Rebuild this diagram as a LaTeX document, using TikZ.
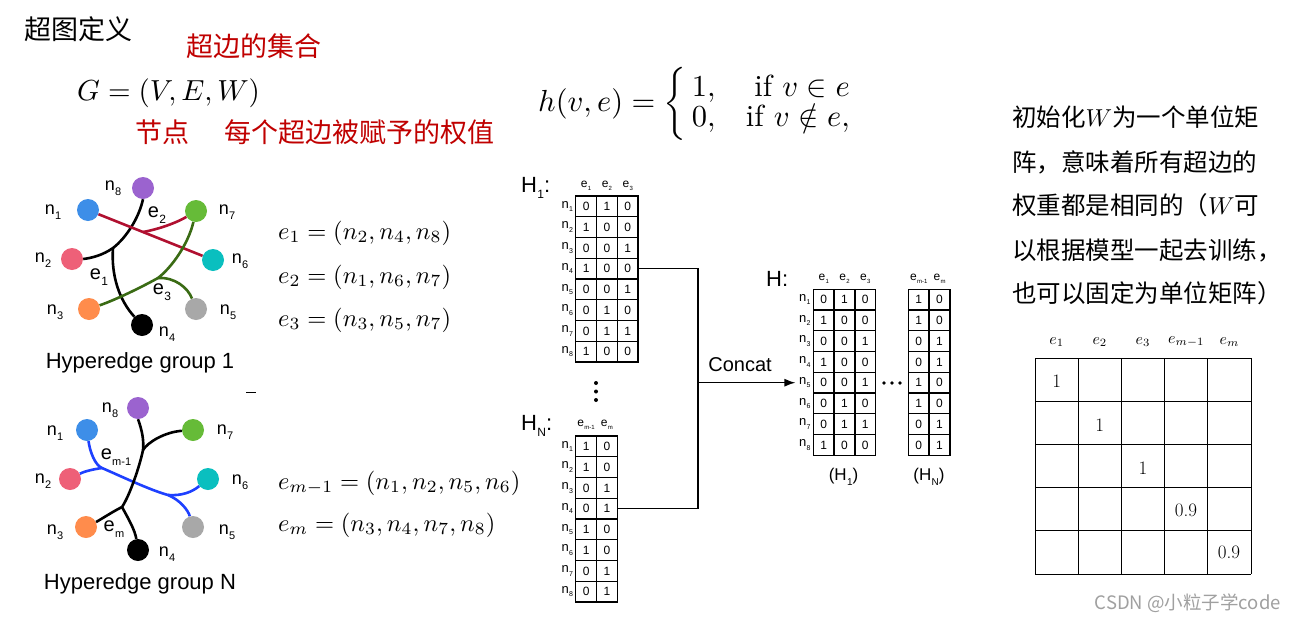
\documentclass[tikz,border=0pt]{standalone}
\usepackage{fontspec}
\setsansfont{Liberation Sans}
\newfontfamily\cjk{Noto Sans CJK SC}
\usepackage{graphicx}
\usetikzlibrary{arrows.meta,backgrounds}
\definecolor{tred}{RGB}{192,0,0}
\definecolor{cpurple}{RGB}{155,99,207}
\definecolor{cblue}{RGB}{61,142,232}
\definecolor{cgreen}{RGB}{102,187,56}
\definecolor{cpink}{RGB}{238,96,120}
\definecolor{cteal}{RGB}{10,191,191}
\definecolor{corange}{RGB}{255,140,76}
\definecolor{cgray}{RGB}{168,168,168}
\definecolor{ered}{RGB}{176,16,48}
\definecolor{egreen}{RGB}{58,107,20}
\definecolor{eblue}{RGB}{30,64,255}
\definecolor{wmark}{RGB}{160,160,160}
\newcommand{\fs}[1]{\fontsize{#1}{#1}\selectfont}
\newcommand{\sm}[2]{\scalebox{#1}{\fs{10}$#2$}}
\newcommand{\lsub}[3]{#1\kern0.3pt\raisebox{-0.28em}{\fs{#3}#2}}
\newcommand{\hmat}[4]{%
  \foreach \rowv [count=\rv] in {#4} {%
    \foreach \vv [count=\cv] in \rowv {%
      \node[cellbox] (#1-\rv-\cv) at ({#2+(\cv-0.5)*20.8},{#3+(\rv-0.5)*20.75}) {\vv};
    }
  }
}
\newcommand{\hrows}[3]{%
  \foreach \rv in {1,...,8} {%
    \node[rlab] (#1-l\rv) at ({#2-2},{#3+(\rv-0.5)*20.75}) {\lsub{n}{\rv}{7}};
  }
}
\tikzset{
  cjkt/.style={anchor=west, inner sep=0pt, font=\cjk\fs{27}},
  cjkr/.style={anchor=west, inner sep=0pt, font=\cjk\fs{24.5}},
  eqst/.style={anchor=west, inner sep=0pt},
  vtx/.style={circle, minimum size=22pt, inner sep=0pt},
  vlab/.style={font=\sffamily\fs{18}, inner sep=0pt},
  elab/.style={font=\sffamily\fs{20}, inner sep=0pt},
  hedge/.style={line width=2.6pt},
  grpcap/.style={font=\sffamily\fs{22}, inner sep=0pt},
  cellbox/.style={draw, line width=1.3pt, minimum width=20.8pt, minimum height=20.75pt, inner sep=0pt, font=\sffamily\fs{12}},
  rlab/.style={anchor=east, inner sep=0.5pt, font=\sffamily\fs{13}},
  hlab/.style={inner sep=0pt, font=\sffamily\fs{12}},
  mtitle/.style={anchor=west, inner sep=0pt, font=\sffamily\fs{22}},
  conn/.style={line width=1.4pt},
  wgrid/.style={line width=1pt},
  wval/.style={inner sep=0pt, font=\fs{19}},
  whead/.style={inner sep=0pt},
}
\begin{document}
\begin{tikzpicture}[x=1pt,y=-1pt]
\begin{scope}[on background layer]
\path[fill=white] (0,0) rectangle (1295,621);
\end{scope}
\useasboundingbox (0,0) rectangle (1295,621);

% ---------- titles ----------
\node[cjkt] (title) at (24,29) {超图定义};
\node[cjkt, text=tred] (eset) at (186,46) {超边的集合};
\node[anchor=west, inner sep=0pt] (geq) at (77,93) {\sm{2.9}{G=(V,E,W)}};
\node[cjkt, text=tred] (vnode) at (135,132) {节点};
\node[cjkt, text=tred] (wset) at (224,132) {每个超边被赋予的权值};

% ---------- h(v,e) ----------
\node[anchor=west, inner sep=0pt] (hdef) at (538,104)
 {\sm{3.05}{h(v,e)=\biggl\{\,\renewcommand{\arraystretch}{0.78}\begin{array}{@{}l@{\quad}r@{}} 1, & \mbox{if }v\in e\\ 0, & \mbox{if }v\notin e,\end{array}}};

% ---------- hyperedge group 1 ----------
\node[vtx, fill=cpurple] (a8) at (143,188) {};
\node[vtx, fill=cblue] (a1) at (88,210) {};
\node[vtx, fill=cgreen] (a7) at (196,211) {};
\node[vtx, fill=cpink] (a2) at (72,259) {};
\node[vtx, fill=cteal] (a6) at (213,260) {};
\node[vtx, fill=corange] (a3) at (89,309) {};
\node[vtx, fill=cgray] (a5) at (196,309) {};
\node[vtx, fill=black] (a4) at (142,325) {};
\node[vlab] (la8) at (113,188) {\lsub{n}{8}{11}};
\node[vlab] (la1) at (53,212) {\lsub{n}{1}{11}};
\node[vlab] (la7) at (227,212) {\lsub{n}{7}{11}};
\node[vlab] (la2) at (43,260) {\lsub{n}{2}{11}};
\node[vlab] (la6) at (240,261) {\lsub{n}{6}{11}};
\node[vlab] (la3) at (55,312) {\lsub{n}{3}{11}};
\node[vlab] (la5) at (228,312) {\lsub{n}{5}{11}};
\node[vlab] (la4) at (167,334) {\lsub{n}{4}{11}};
\node[elab] (le2) at (157,215) {\lsub{e}{2}{12}};
\node[elab] (le1) at (99,277) {\lsub{e}{1}{12}};
\node[elab] (le3) at (162,292) {\lsub{e}{3}{12}};
\coordinate (j1) at (113,248);
\coordinate (j2) at (143,232);
\coordinate (j3) at (158,278);
\begin{scope}[on background layer]
\draw[hedge] (a8.south) .. controls (139,218) and (126,238) .. (j1) .. controls (103,255) and (92,258) .. (a2.east);
\draw[hedge] (j1) .. controls (111,275) and (119,300) .. (a4);
\draw[hedge, ered] (a1) -- (a6);
\draw[hedge, ered] (j2) .. controls (160,229) and (178,222) .. (a7);
\draw[hedge, egreen] (a7) .. controls (188,245) and (171,268) .. (j3) .. controls (140,288) and (115,300) .. (a3);
\draw[hedge, egreen] (j3) .. controls (175,277) and (188,288) .. (a5);
\end{scope}
\node[grpcap] (g1cap) at (140,363) {Hyperedge group 1};

% ---------- hyperedge group N ----------
\node[vtx, fill=cpurple] (b8) at (138,408) {};
\node[vtx, fill=cblue] (b1) at (87,430) {};
\node[vtx, fill=cgreen] (b7) at (193,430) {};
\node[vtx, fill=cpink] (b2) at (70,479) {};
\node[vtx, fill=cteal] (b6) at (208,479) {};
\node[vtx, fill=corange] (b3) at (86,527) {};
\node[vtx, fill=cgray] (b5) at (193,527) {};
\node[vtx, fill=black] (b4) at (138,550) {};
\node[vlab] (lb8) at (110,410) {\lsub{n}{8}{11}};
\node[vlab] (lb1) at (55,433) {\lsub{n}{1}{11}};
\node[vlab] (lb7) at (225,432) {\lsub{n}{7}{11}};
\node[vlab] (lb2) at (43,481) {\lsub{n}{2}{11}};
\node[vlab] (lb6) at (240,482) {\lsub{n}{6}{11}};
\node[vlab] (lb3) at (55,532) {\lsub{n}{3}{11}};
\node[vlab] (lb5) at (227,532) {\lsub{n}{5}{11}};
\node[vlab] (lb4) at (167,554) {\lsub{n}{4}{11}};
\node[elab] (lem1) at (116,457) {\lsub{e}{m-1}{11}};
\node[elab] (lem) at (114,529) {\lsub{e}{m}{11}};
\coordinate (j4) at (143,450);
\coordinate (j5) at (122,507);
\coordinate (j6) at (102,468);
\coordinate (j7) at (168,495);
\begin{scope}[on background layer]
\draw[hedge, eblue] (b1) .. controls (90,452) and (95,465) .. (j6) .. controls (125,478) and (150,490) .. (j7);
\draw[hedge, eblue] (j6) .. controls (95,469) and (85,471) .. (b2);
\draw[hedge, eblue] (j7) .. controls (182,496) and (192,492) .. (b6);
\draw[hedge, eblue] (j7) .. controls (180,500) and (188,510) .. (b5);
\draw[hedge] (b8.south) .. controls (142,430) and (144,440) .. (j4) .. controls (140,465) and (130,495) .. (j5);
\draw[hedge] (j4) .. controls (148,442) and (165,432) .. (b7);
\draw[hedge] (j5) .. controls (112,512) and (100,520) .. (b3);
\draw[hedge] (j5) .. controls (128,518) and (135,530) .. (b4);
\end{scope}
\node[grpcap] (gNcap) at (140,584) {Hyperedge group N};
\draw[line width=1pt] (246,392) -- (256,392);

% ---------- equations ----------
\node[eqst] (eq1) at (278,233) {\sm{2.45}{e_1=(n_2,n_4,n_8)}};
\node[eqst] (eq2) at (278,277) {\sm{2.45}{e_2=(n_1,n_6,n_7)}};
\node[eqst] (eq3) at (278,320) {\sm{2.45}{e_3=(n_3,n_5,n_7)}};
\node[eqst] (eq4) at (278,483) {\sm{2.45}{e_{m-1}=(n_1,n_2,n_5,n_6)}};
\node[eqst] (eq5) at (278,525) {\sm{2.45}{e_m=(n_3,n_4,n_7,n_8)}};

% ---------- incidence matrices ----------
\node[mtitle] (h1t) at (521,188) {\lsub{H}{1}{12}:};
\node[hlab] (h1e1) at (586.1,186) {\lsub{e}{1}{6}};
\node[hlab] (h1e2) at (606.9,186) {\lsub{e}{2}{6}};
\node[hlab] (h1e3) at (627.7,186) {\lsub{e}{3}{6}};
\hmat{H1}{575.7}{196}{{0,1,0},{1,0,0},{0,0,1},{1,0,0},{0,0,1},{0,1,0},{0,1,1},{1,0,0}}
\hrows{H1}{575.7}{196}

\fill (596,383) circle[radius=2pt] (596,391.5) circle[radius=2pt] (596,400) circle[radius=2pt];

\node[mtitle] (hNt) at (521,426) {\lsub{H}{N}{12}:};
\node[hlab] (hNe1) at (586.1,425) {\lsub{e}{m-1}{6}};
\node[hlab] (hNe2) at (606.9,425) {\lsub{e}{m}{6}};
\hmat{HN}{575.7}{436}{{1,0},{1,0},{0,1},{0,1},{1,0},{1,0},{0,1},{0,1}}
\hrows{HN}{575.7}{436}

\node[mtitle] (ht) at (766,279) {H:};
\node[hlab] (hle1) at (823.7,279) {\lsub{e}{1}{6}};
\node[hlab] (hle2) at (844.5,279) {\lsub{e}{2}{6}};
\node[hlab] (hle3) at (865.3,279) {\lsub{e}{3}{6}};
\node[hlab] (hre1) at (918.7,279) {\lsub{e}{m-1}{6}};
\node[hlab] (hre2) at (939.5,279) {\lsub{e}{m}{6}};
\hmat{HL}{813.3}{289.3}{{0,1,0},{1,0,0},{0,0,1},{1,0,0},{0,0,1},{0,1,0},{0,1,1},{1,0,0}}
\hrows{HL}{813.3}{289.3}
\hmat{HR}{908.3}{289.3}{{1,0},{1,0},{0,1},{0,1},{1,0},{1,0},{0,1},{0,1}}
\fill (884,383) circle[radius=1.8pt] (892,383) circle[radius=1.8pt] (900,383) circle[radius=1.8pt];
\node[inner sep=0pt, font=\sffamily\fs{17}] (hl1) at (843.5,477) {(\lsub{H}{1}{10})};
\node[inner sep=0pt, font=\sffamily\fs{17}] (hlN) at (929,477) {(\lsub{H}{N}{10})};

\coordinate (cj) at (698,382.7);
\draw[conn] (H1-4-3.east) -| (cj);
\draw[conn] (HN-4-2.east) -| (cj);
\draw[conn, -{Latex[length=11pt,width=8pt]}, shorten >=3pt] (cj) -- (cj -| HL-l5.west);
\node[inner sep=0pt, font=\sffamily\fs{20}] (concat) at (740,365) {Concat};

% ---------- right text ----------
\node[cjkr] (t1) at (1012,117) {初始化\sm{2.45}{W}为一个单位矩};
\node[cjkr] (t2) at (1012,162) {阵，意味着所有超边的};
\node[cjkr] (t3) at (1012,205) {权重都是相同的（\sm{2.45}{W}可};
\node[cjkr] (t4) at (1012,250) {以根据模型一起去训练，};
\node[cjkr] (t5) at (1012,293) {也可以固定为单位矩阵）};

% ---------- W matrix ----------
\foreach \iv in {0,...,5} {
  \draw[wgrid] ({1035+43.2*\iv},358.3) -- ({1035+43.2*\iv},574);
  \draw[wgrid] (1035,{358.3+43.14*\iv}) -- (1251,{358.3+43.14*\iv});
}
\node[whead] (w1) at (1056.6,342) {\sm{1.6}{e_1}};
\node[whead] (w2) at (1099.8,342) {\sm{1.6}{e_2}};
\node[whead] (w3) at (1143,342) {\sm{1.6}{e_3}};
\node[whead] (w4) at (1186.2,342) {\sm{1.6}{e_{m-1}}};
\node[whead] (w5) at (1229.4,342) {\sm{1.6}{e_m}};
\node[wval] (v1) at (1056.6,381) {1};
\node[wval] (v2) at (1099.8,425) {1};
\node[wval] (v3) at (1143,468) {1};
\node[wval] (v4) at (1186,510) {0.9};
\node[wval] (v5) at (1229,552) {0.9};

% ---------- watermark ----------
\node[anchor=east, inner sep=0pt, font=\cjk\fs{18.5}, text=wmark] (wm) at (1281,603) {CSDN @小粒子学code};
\end{tikzpicture}
\end{document}
